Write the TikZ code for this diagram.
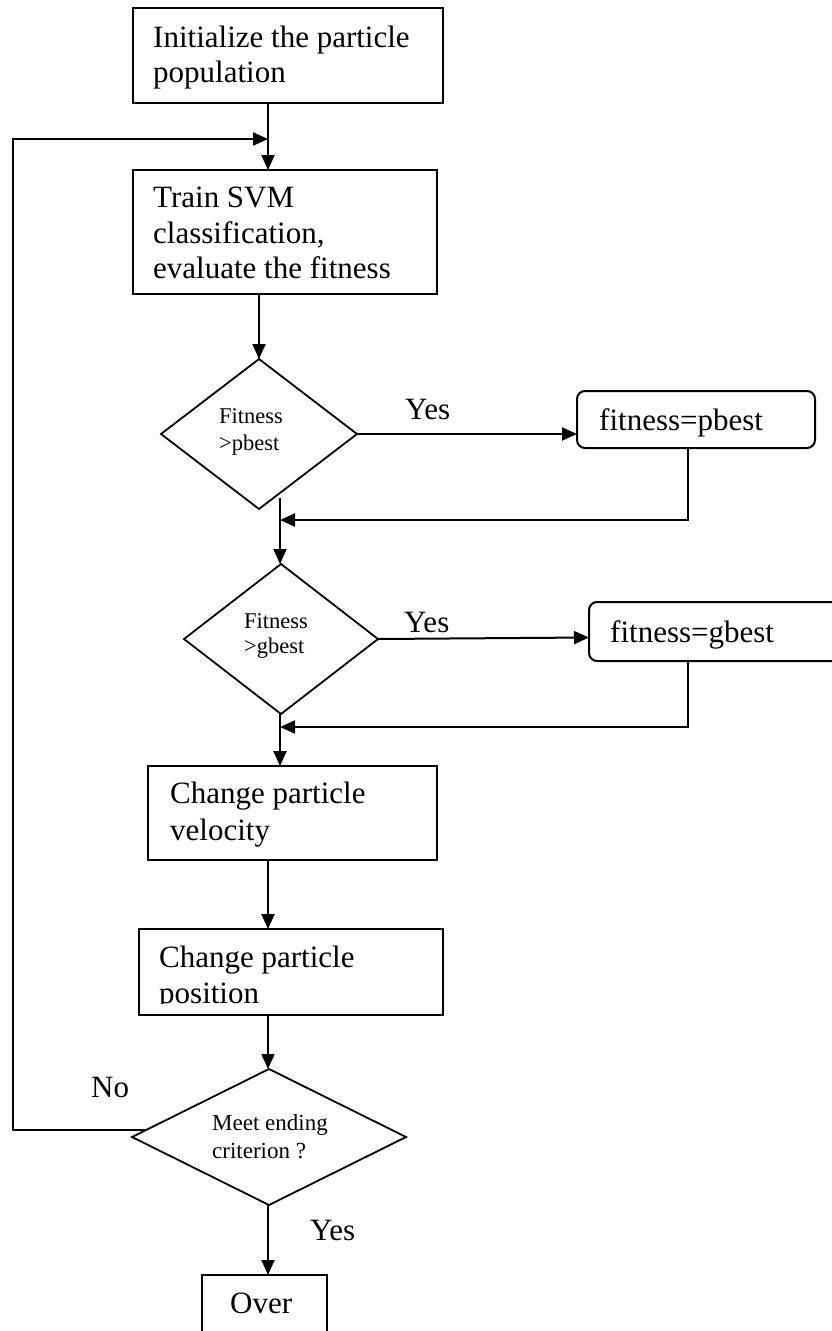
\documentclass[tikz,border=0pt]{standalone}
\usepackage{fontspec}
\setmainfont{Liberation Serif}
\usetikzlibrary{shapes.geometric,arrows.meta,calc}
\begin{document}
\begin{tikzpicture}[x=1pt,y=-1pt,
  pbox/.style={draw,line width=2pt,rectangle,inner sep=0pt,outer sep=0pt},
  pround/.style={pbox,rounded corners=8pt},
  pdia/.style={draw,line width=1.8pt,diamond,inner sep=0pt,outer sep=0pt},
  big/.style={inner sep=0pt,anchor=base west,font=\fontsize{31}{36}\selectfont},
  small/.style={inner sep=0pt,anchor=base west,font=\fontsize{22.5}{26}\selectfont},
  mid/.style={inner sep=0pt,anchor=base west,font=\fontsize{23}{28}\selectfont},
  parr/.style={line width=2pt,-{Triangle[length=15pt,width=13pt]}},
  pline/.style={line width=2pt}]
\useasboundingbox (0,0) rectangle (831,1331);
\fill[white] (0,0) rectangle (831,1331);
% boxes
\node[pbox,minimum width=310pt,minimum height=95pt] (b1) at (288,55.5) {};
\node[pbox,minimum width=304pt,minimum height=124pt] (b2) at (285,232) {};
\node[pdia,minimum width=196pt,minimum height=150pt] (d1) at (259,434) {};
\node[pround,minimum width=238pt,minimum height=57pt] (pb) at (696,419.5) {};
\node[pdia,minimum width=194pt,minimum height=150pt] (d2) at (281,639) {};
\node[pround,minimum width=261pt,minimum height=59pt] (gb) at (719.5,631.5) {};
\node[pbox,minimum width=289pt,minimum height=94pt] (vel) at (292.5,813) {};
\node[pbox,minimum width=304pt,minimum height=86pt] (pos) at (291,972) {};
\node[pdia,minimum width=274pt,minimum height=136pt] (d3) at (269,1137) {};
\node[pbox,minimum width=125pt,minimum height=85pt] (over) at (264.5,1317.5) {};
% texts
\node[big] (t1a) at (153,47) {Initialize the particle};
\node[big] (t1b) at (153,82) {population};
\node[big] (t2a) at (153,207) {Train SVM};
\node[big] (t2b) at (153,243) {classification,};
\node[big] (t2c) at (153,278) {evaluate the fitness};
\node[small] (t3a) at (219,423) {Fitness};
\node[small] (t3b) at (219,450) {>pbest};
\node[big] (t4) at (599,430) {fitness=pbest};
\node[small] (t5a) at (244,628) {Fitness};
\node[small] (t5b) at (244,653) {>gbest};
\node[big] (t6) at (610,642) {fitness=gbest};
\node[big] (t7a) at (170,803) {Change particle};
\node[big] (t7b) at (170,840) {velocity};
\node[big] (t8a) at (159,967) {Change particle};
\begin{scope}
\clip (0,0) rectangle (831,1003);
\node[big] (t8b) at (159,1003) {position};
\end{scope}
\node[mid] (t9a) at (212,1130) {Meet ending};
\node[mid] (t9b) at (212,1158) {criterion ?};
\node[big] (t10) at (230,1313) {Over};
% labels
\node[big] (y1) at (405,419) {Yes};
\node[big] (y2) at (404,632) {Yes};
\node[big] (no) at (91,1097) {No};
\node[big] (y3) at (310,1240) {Yes};
% helper coordinates
\coordinate (xa) at (268,0);
\coordinate (j1) at (268,139);
\coordinate (lp) at (13,139);
\coordinate (xb) at (688,0);
\coordinate (j2) at (280,520);
\coordinate (s2) at (280,498);
\coordinate (j3) at (280,727);
\coordinate (xc) at (280,0);
% connectors
\draw[parr] (b1.south -| xa) -- (b2.north -| xa);
\draw[parr] ($(d3.west)!0.1!(d3.north)$) -| (lp) -- (j1);
\draw[parr] (d1.north |- b2.south) -- (d1.north);
\draw[parr] (d1.east) -- (pb.west |- d1.east);
\draw[parr] (pb.south -| xb) |- (j2);
\draw[parr] (s2) -- (d2.north -| xc);
\draw[parr] (d2.east) -- ($(gb.west)+(0,6)$);
\draw[parr] (gb.south -| xb) |- (j3);
\draw[parr] (d2.south -| xc) -- (vel.north -| xc);
\draw[parr] (vel.south -| xa) -- (pos.north -| xa);
\draw[parr] (pos.south -| xa) -- (d3.north -| xa);
\draw[parr] (d3.south -| xa) -- (over.north -| xa);
\end{tikzpicture}
\end{document}
